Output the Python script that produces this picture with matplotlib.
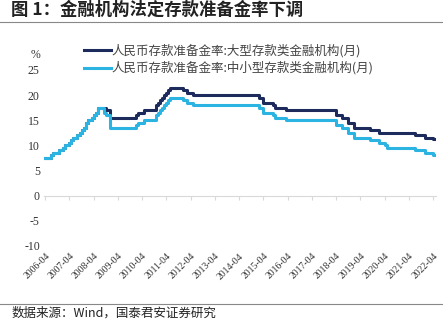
import pandas as pd
import matplotlib.pyplot as plt

plt.rcParams['font.family'] = ['Noto Sans CJK SC', 'DejaVu Sans']

# 调整日期（月）及调整后的准备金率 %
change_months = ['2006-04', '2006-07', '2006-08', '2006-11', '2007-01', '2007-02',
                 '2007-04', '2007-05', '2007-06', '2007-08', '2007-09', '2007-10',
                 '2007-11', '2007-12', '2008-01', '2008-03', '2008-04', '2008-05',
                 '2008-06', '2008-09', '2008-10', '2008-12', '2010-01', '2010-02',
                 '2010-05', '2010-11', '2010-12', '2011-01', '2011-02', '2011-03',
                 '2011-04', '2011-05', '2011-06', '2011-12', '2012-02', '2012-05',
                 '2015-02', '2015-04', '2015-09', '2015-10', '2016-03', '2018-04',
                 '2018-07', '2018-10', '2019-01', '2019-09', '2020-01', '2020-04',
                 '2020-05', '2021-07', '2021-12', '2022-04']
large = [7.5, 8.0, 8.5, 9.0, 9.5, 10.0,
         10.5, 11.0, 11.5, 12.0, 12.5, 13.0,
         13.5, 14.5, 15.0, 15.5, 16.0, 16.5,
         17.5, 17.5, 17.0, 15.5, 16.0, 16.5,
         17.0, 18.0, 18.5, 19.0, 19.5, 20.0,
         20.5, 21.0, 21.5, 21.0, 20.5, 20.0,
         19.5, 18.5, 18.0, 17.5, 17.0, 16.0,
         15.5, 14.5, 13.5, 13.0, 12.5, 12.5,
         12.5, 12.0, 11.5, 11.25]
small = [7.5, 8.0, 8.5, 9.0, 9.5, 10.0,
         10.5, 11.0, 11.5, 12.0, 12.5, 13.0,
         13.5, 14.5, 15.0, 15.5, 16.0, 16.5,
         17.5, 16.5, 16.0, 13.5, 14.0, 14.5,
         15.0, 16.0, 16.5, 17.0, 17.5, 18.0,
         18.5, 19.0, 19.5, 19.0, 18.5, 18.0,
         17.5, 16.5, 16.0, 15.5, 15.0, 14.0,
         13.5, 12.5, 11.5, 11.0, 10.5, 10.0,
         9.5, 9.0, 8.5, 8.0]
end_month = '2022-05'
tick_labels = ['%d-04' % y for y in range(2006, 2023)]
yticks = [-10, -5, 0, 5, 10, 15, 20, 25]

dates = list(pd.to_datetime(change_months)) + [pd.Timestamp(end_month)]
large_s = large + [large[-1]]
small_s = small + [small[-1]]

fig = plt.figure(figsize=(4.43, 3.2), dpi=100)
ax = fig.add_axes([44 / 443, 74 / 320, 392 / 443, 176 / 320])

ax.plot(dates, large_s, drawstyle='steps-post', color='#1c2a5c', lw=2.2,
        label='人民币存款准备金率:大型存款类金融机构(月)')
ax.plot(dates, small_s, drawstyle='steps-post', color='#2bb3e2', lw=2.2,
        label='人民币存款准备金率:中小型存款类金融机构(月)')

ax.set_ylim(-10, 25)
ax.set_xlim(pd.Timestamp('2006-03-15'), pd.Timestamp('2022-05-15'))
ax.set_yticks(yticks)
ax.set_yticklabels([str(v) for v in yticks], family='Liberation Serif', fontsize=8.5)
ticks = pd.to_datetime(tick_labels)
ax.set_xticks(ticks)
ax.set_xticklabels(tick_labels, rotation=45, ha='right', va='top',
                   rotation_mode='anchor', family='Liberation Serif', fontsize=7,
                   color='#333333')
ax.tick_params(axis='both', length=0, pad=3, colors='#333333')
ax.tick_params(axis='x', pad=4)
for s in ax.spines.values():
    s.set_visible(False)

# zero line with small tick marks
zero = ax.secondary_xaxis(10 / 35)
zero.spines['bottom'].set_color('#d9d9d9')
zero.set_xticks(ticks)
zero.set_xticklabels([])
zero.tick_params(length=3, color='#d9d9d9', direction='out')

ax.text(-0.01, 1.085, '%', transform=ax.transAxes, ha='right', va='center',
        family='Liberation Serif', fontsize=8.5, color='#333333')

ax.legend(loc='upper left', bbox_to_anchor=(0.09, 1.175), frameon=False,
          fontsize=9, handlelength=2.1, handletextpad=0.1, labelspacing=0.3,
          borderaxespad=0, labelcolor='#444444')

fig.text(0.025, 1 - 10 / 320, '图 1：金融机构法定存款准备金率下调', ha='left', va='center',
         fontsize=12.5, fontweight='bold', color='#222222')
fig.add_artist(plt.Line2D([0, 1], [1 - 22 / 320, 1 - 22 / 320], color='#888888', lw=0.8))
fig.add_artist(plt.Line2D([0, 1], [1 - 304 / 320, 1 - 304 / 320], color='#888888', lw=0.8))
fig.text(0.025, 1 - 307 / 320, '数据来源：Wind，国泰君安证券研究', ha='left', va='top',
         fontsize=9, color='#222222')

fig.savefig('out.png', dpi=100)
